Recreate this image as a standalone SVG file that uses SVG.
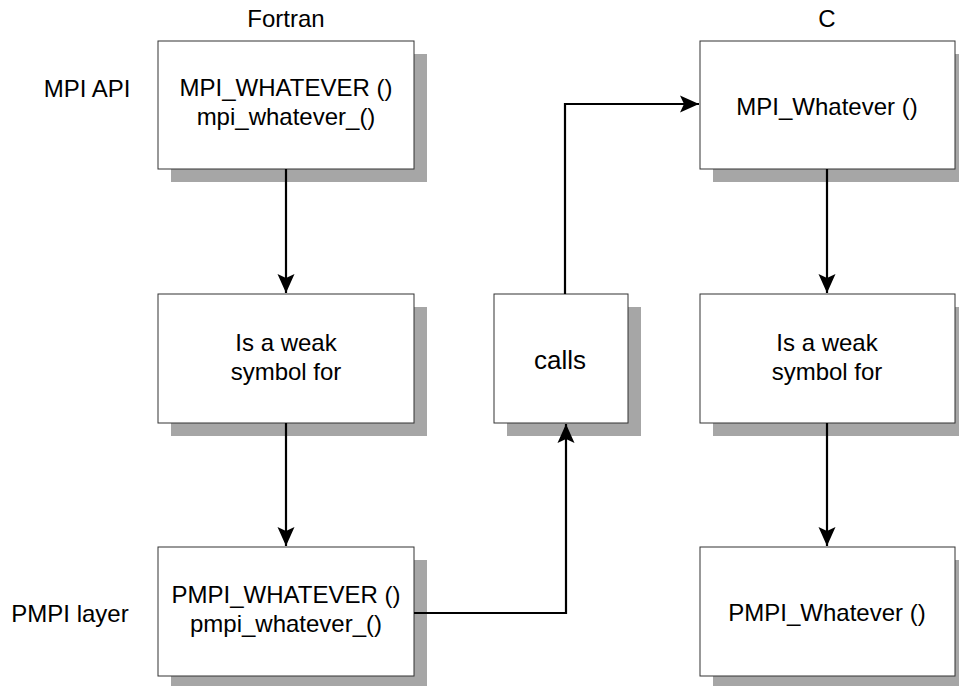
<svg xmlns="http://www.w3.org/2000/svg" width="959" height="686" viewBox="0 0 959 686">
<style>
  text { font-family: "Liberation Sans", Arial, sans-serif; font-size: 24px; fill: #000; text-anchor: middle; }
  .box { fill: #fff; stroke: #333; stroke-width: 1; }
  .shadow { fill: #a6a6a6; }
  .conn { fill: none; stroke: #000; stroke-width: 2.2; }
</style>
<defs>
  <marker id="arrow" markerUnits="userSpaceOnUse" markerWidth="22" markerHeight="20" viewBox="-20 -10 22 20" refX="0" refY="0" orient="auto">
    <path d="M0,0 L-19,-8.5 L-15,0 L-19,8.5 Z" fill="#000"/>
  </marker>
</defs>
<rect width="959" height="686" fill="#fff"/>

<g id="labels">
  <text x="286" y="27">Fortran</text>
  <text x="827" y="27">C</text>
  <text x="87" y="97">MPI API</text>
  <text x="70" y="622">PMPI layer</text>
</g>

<g id="f-api">
  <rect class="shadow" x="171" y="54" width="256" height="128"/>
  <rect class="box" x="158" y="41" width="256" height="128"/>
  <text x="286" y="96">MPI_WHATEVER ()</text>
  <text x="286" y="125">mpi_whatever_()</text>
</g>
<g id="f-weak">
  <rect class="shadow" x="171" y="307" width="256" height="129"/>
  <rect class="box" x="158" y="294" width="256" height="129"/>
  <text x="286" y="351">Is a weak</text>
  <text x="286" y="380">symbol for</text>
</g>
<g id="f-pmpi">
  <rect class="shadow" x="171" y="560" width="256" height="129"/>
  <rect class="box" x="158" y="547" width="256" height="129"/>
  <text x="286" y="603">PMPI_WHATEVER ()</text>
  <text x="286" y="632">pmpi_whatever_()</text>
</g>
<g id="calls">
  <rect class="shadow" x="507" y="307" width="134" height="129"/>
  <rect class="box" x="494" y="294" width="134" height="129"/>
  <text x="560" y="369" style="font-size:26px">calls</text>
</g>
<g id="c-api">
  <rect class="shadow" x="713" y="54" width="255" height="128"/>
  <rect class="box" x="700" y="41" width="255" height="128"/>
  <text x="827" y="115">MPI_Whatever ()</text>
</g>
<g id="c-weak">
  <rect class="shadow" x="713" y="307" width="255" height="129"/>
  <rect class="box" x="700" y="294" width="255" height="129"/>
  <text x="827" y="351">Is a weak</text>
  <text x="827" y="380">symbol for</text>
</g>
<g id="c-pmpi">
  <rect class="shadow" x="713" y="560" width="255" height="129"/>
  <rect class="box" x="700" y="547" width="255" height="129"/>
  <text x="827" y="621">PMPI_Whatever ()</text>
</g>

<g id="connectors">
  <path class="conn" d="M286,169 L286,293" marker-end="url(#arrow)"/>
  <path class="conn" d="M286,423 L286,546" marker-end="url(#arrow)"/>
  <path class="conn" d="M414,613 L566,613 L566,424" marker-end="url(#arrow)"/>
  <path class="conn" d="M565,294 L565,104 L699,104" marker-end="url(#arrow)"/>
  <path class="conn" d="M827,169 L827,293" marker-end="url(#arrow)"/>
  <path class="conn" d="M827,423 L827,546" marker-end="url(#arrow)"/>
</g>
</svg>
